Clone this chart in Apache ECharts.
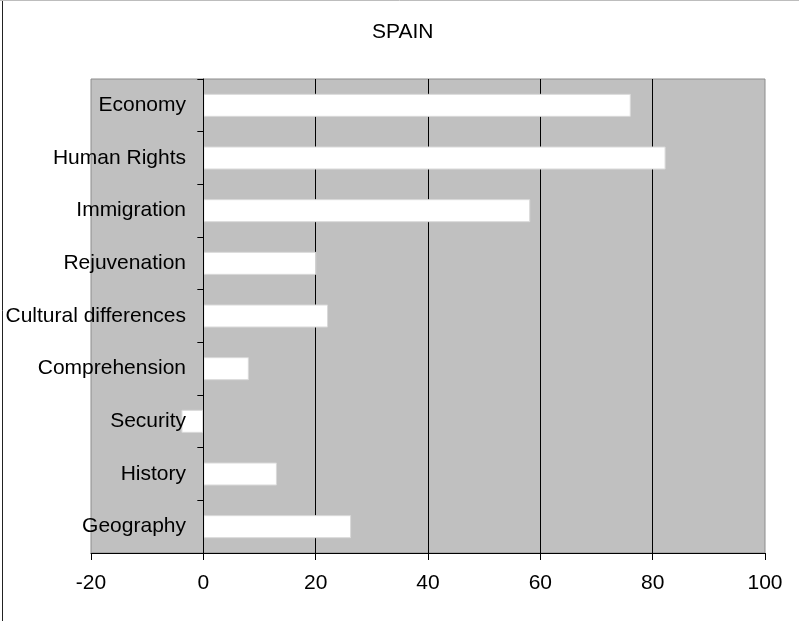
<!DOCTYPE html>
<html>
<head>
<meta charset="utf-8">
<script src="https://cdn.jsdelivr.net/npm/echarts@6/dist/echarts.min.js"></script>
<style>
html,body{margin:0;padding:0;background:#fff;}
#chart{width:799px;height:621px;}
</style>
</head>
<body>
<div id="chart"></div>
<script>
var categories = ['Economy','Human Rights','Immigration','Rejuvenation','Cultural differences','Comprehension','Security','History','Geography'];
var values = [76.1, 82.3, 58.2, 20.1, 22.2, 8.1, -3.9, 13.1, 26.3];
var xMin = -20, xMax = 100, xStep = 20;
var titleText = 'SPAIN';

var chart = echarts.init(document.getElementById('chart'), null, {renderer:'canvas'});
var FONT = '"Liberation Sans", Arial, sans-serif';
chart.setOption({
  animation: false,
  backgroundColor: '#ffffff',
  title: {
    text: titleText,
    left: 367, top: 17,
    textStyle: {fontFamily: FONT, fontSize: 21, fontWeight: 'normal', color: '#000'}
  },
  grid: {
    left: 91, top: 79, right: 34, bottom: 68,
    show: true, backgroundColor: '#c0c0c0', borderColor: '#8c8c8c', borderWidth: 1,
    containLabel: false,
    outerBoundsMode: 'none'
  },
  xAxis: {
    type: 'value', min: xMin, max: xMax, interval: xStep,
    axisLine: {show: true, onZero: false, lineStyle: {color: '#000', width: 1}},
    axisTick: {show: true, length: 7, lineStyle: {color: '#000'}},
    axisLabel: {fontFamily: FONT, fontSize: 21, color: '#000', margin: 20},
    splitLine: {show: true, showMinLine: false, showMaxLine: false, lineStyle: {color: '#000', width: 1}}
  },
  yAxis: {
    type: 'category', data: categories, inverse: true, z: 3,
    axisLine: {show: true, onZero: true, lineStyle: {color: '#000', width: 1}},
    axisTick: {show: true, length: 6, alignWithLabel: false, lineStyle: {color: '#000'}},
    axisLabel: {fontFamily: FONT, fontSize: 21, color: '#000', margin: -95},
    splitLine: {show: false}
  },
  series: [{
    type: 'bar',
    data: values,
    barWidth: 23,
    itemStyle: {color: '#ffffff', borderColor: '#d9d9d9', borderWidth: 1},
    z: 2
  }],
  graphic: [
    {type: 'line', shape: {x1: 2.5, y1: 0, x2: 2.5, y2: 621}, style: {stroke: '#222', lineWidth: 1}, silent: true},
    {type: 'line', shape: {x1: 0, y1: 0.5, x2: 799, y2: 0.5}, style: {stroke: '#bdbdbd', lineWidth: 1}, silent: true}
  ]
});
</script>
</body>
</html>
